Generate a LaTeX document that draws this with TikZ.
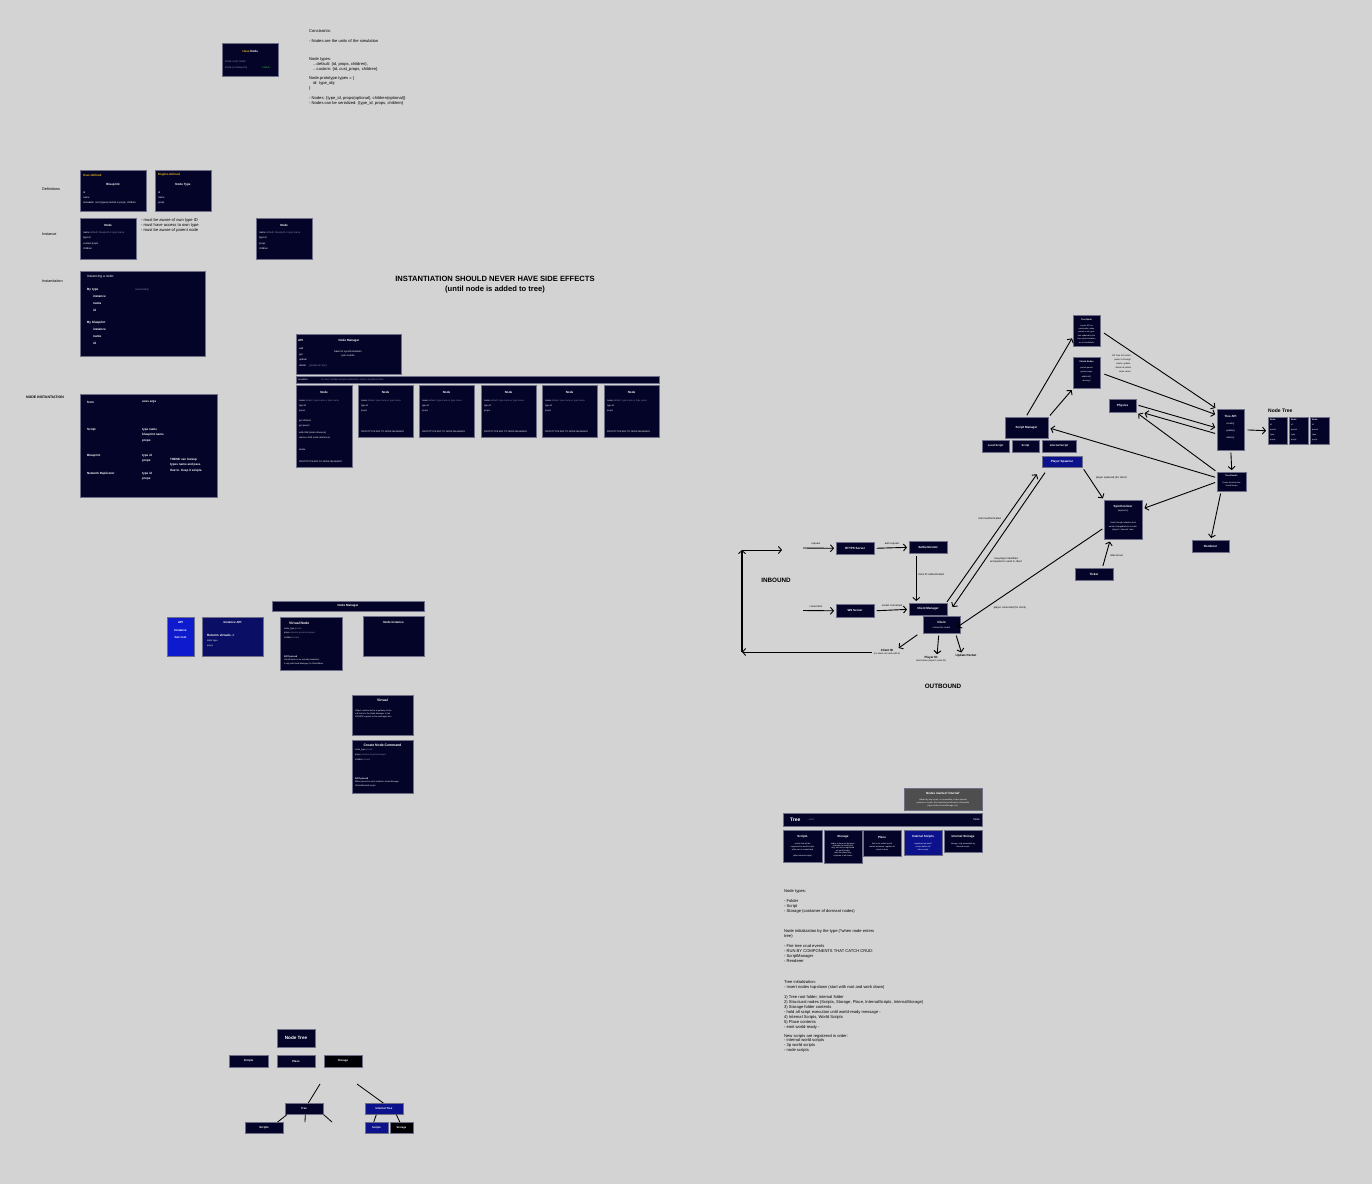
\documentclass[tikz,border=0pt]{standalone}
\usepackage{fontspec}
\setmainfont{Liberation Sans}
\usetikzlibrary{arrows.meta,positioning,calc}

\definecolor{bgc}{RGB}{211,211,211}
\definecolor{navy}{RGB}{4,4,40}
\definecolor{edge}{RGB}{110,110,135}
\definecolor{apiblue}{RGB}{14,26,205}
\definecolor{midblue}{RGB}{12,18,140}
\definecolor{deepblue}{RGB}{10,14,100}
\definecolor{greybox}{RGB}{78,78,78}
\definecolor{gold}{RGB}{235,180,20}
\definecolor{faint}{RGB}{140,140,170}
\definecolor{lilac}{RGB}{175,140,235}
\definecolor{okgreen}{RGB}{60,200,60}

\newcommand{\fxs}{\fontsize{2.6}{3.1}\selectfont}
\newcommand{\fsm}{\fontsize{4.1}{4.9}\selectfont}
\newcommand{\fbx}{\fontsize{2.7}{5.2}\selectfont}
\newcommand{\ftt}{\fontsize{4.2}{5}\selectfont\bfseries}
\newcommand{\fst}{\fontsize{3}{3.6}\selectfont\bfseries}

\begin{document}
\begin{tikzpicture}[x=1pt, y=-1pt,
    box/.style={draw=edge, line width=0.6pt, fill=navy, inner sep=0pt, anchor=north west},
    ttl/.style={inner sep=0pt, text=white, font=\ftt},
    sttl/.style={inner sep=0pt, text=white, font=\fst},
    txt/.style={inner sep=0pt, anchor=north west, align=left, text=white, font=\fbx},
    note/.style={inner sep=0pt, anchor=north west, align=left, text=black, font=\fsm},
    lbl/.style={inner sep=0pt, text=black, font=\fxs},
    arr/.style={-{Straight Barb[length=3pt,width=7pt,line width=0.9pt]}, line width=0.9pt, shorten <=2pt, shorten >=2pt},
    link/.style={line width=0.8pt},
  ]
  % Canvas
  \fill[bgc] (0,0) rectangle (1372,1184);
  \useasboundingbox (0,0) rectangle (1372,1184);

  %
  % Class and constraints
  %
  \node[box, minimum width=56, minimum height=33] (classnode) at (222,43) {};
  \node[ttl, font=\fst] (classnodeT) at (250,51) {\textcolor{gold}{class} Node};
  \node[txt, font=\fontsize{2.5}{6}\selectfont] (classnodeA) at (225,60.5) {\textcolor{lilac}{Prefix} \textcolor{faint}{script 'Node'}\\\textcolor{lilac}{Prefix} \textcolor{faint}{(no Blueprint)}};
  \node[txt, font=\fontsize{2.5}{6}\selectfont, text=okgreen] (classnodeC) at (262,66.5) {CHILD};

  \node[note] (constraints) at (309,29.3) {Constraints:\\[5pt]
    - Nodes are the units of the simulation\\[13pt]
    Node types:\\
    \quad ...default: \{id, props, children\},\\
    \quad ...custom: \{id, cust\_props, children\}\\[5pt]
    Node.prototype.types = \{\\
    \quad id: type\_obj\\
    \}\\[5pt]
    - Nodes: \{type\_id, props(optional), children(optional)\}\\
    - Nodes can be serialized: \{type\_id, props, children\}};

  %
  % Definitions / instance / instantiation
  %
  \node[note, anchor=west, font=\fontsize{3.8}{4}\selectfont] (lblDef) at (42,189) {Definitions};
  \node[note, anchor=west, font=\fontsize{3.8}{4}\selectfont] (lblInst) at (42,234) {Instance};
  \node[note, anchor=west, font=\fontsize{3.8}{4}\selectfont] (lblInstn) at (42,281) {Instantiation};
  \node[note, anchor=west, font=\fontsize{3.5}{4}\selectfont\bfseries] (lblNodeInst) at (26,397) {NODE INSTANTIATION};

  % Blueprint
  \node[box, minimum width=66, minimum height=41] (blueprint) at (80,170) {};
  \node[sttl, anchor=west, text=gold] (blueprintK) at (83,175) {User-defined};
  \node[sttl] (blueprintT) at (113,185) {Blueprint};
  \node[txt, font=\fontsize{2.5}{5}\selectfont] (blueprintF) at (83,191.5) {id\\name\\metadata: root (types) nested in props, children};

  % Node type
  \node[box, minimum width=56, minimum height=41] (nodetype) at (155,170) {};
  \node[sttl, anchor=west, text=gold] (nodetypeK) at (158,175) {Engine-defined};
  \node[sttl] (nodetypeT) at (183,185) {Node Type};
  \node[txt, font=\fontsize{2.5}{5}\selectfont] (nodetypeF) at (158,191.5) {id\\name\\props};

  % Node instance
  \node[box, minimum width=56, minimum height=41] (nodeinst) at (80,218) {};
  \node[sttl] (nodeinstT) at (108,225) {Node};
  \node[txt, font=\fontsize{2.5}{5.3}\selectfont] (nodeinstF) at (83,231.5) {name \textcolor{faint}{default: blueprint or type name}\\type id\\custom props\\children};
  \node[note] (awareness) at (141,218.3) {- must be aware of own type ID\\- must have access to own type\\- must be aware of parent node};

  \node[box, minimum width=56, minimum height=41] (nodeinstB) at (256,218) {};
  \node[sttl] (nodeinstBT) at (284,225) {Node};
  \node[txt, font=\fontsize{2.5}{5.3}\selectfont] (nodeinstBF) at (259,231.5) {name \textcolor{faint}{default: blueprint or type name}\\type id\\props\\children};

  % Instancing
  \node[box, minimum width=125, minimum height=85] (instancing) at (80,271) {};
  \node[txt, anchor=west, font=\fontsize{3.3}{4}\selectfont] (instancingT) at (87,277) {Instancing a node:};
  \node[txt, anchor=west, font=\fontsize{3.1}{4}\selectfont\bfseries] (bytype) at (87,290) {By type};
  \node[txt, anchor=west, font=\fxs, text=faint] (bytypeN) at (135,290) {new Node()};
  \node[txt, font=\fontsize{3.1}{7}\selectfont\bfseries] (bytypeF) at (93,295) {instance\\name\\id};
  \node[txt, anchor=west, font=\fontsize{3.1}{4}\selectfont\bfseries] (byblue) at (87,323) {By blueprint};
  \node[txt, font=\fontsize{3.1}{7}\selectfont\bfseries] (byblueF) at (93,328) {instance\\name\\id};

  % Node instantiation table
  \node[box, minimum width=137, minimum height=103] (instTable) at (80,394) {};
  \node[txt, anchor=west, font=\fst] (itFrom) at (87,402) {from};
  \node[txt, anchor=west, font=\fst] (itArgs) at (142,402) {uses args};
  \node[txt, anchor=west, font=\fst] (itScript) at (87,430) {Script};
  \node[txt, font=\fontsize{3}{5.5}\selectfont\bfseries] (itScriptA) at (142,428) {type name\\blueprint name\\props};
  \node[txt, anchor=west, font=\fst] (itBlue) at (87,456) {Blueprint};
  \node[txt, font=\fontsize{3}{5.5}\selectfont\bfseries] (itBlueA) at (142,454) {type id\\props};
  \node[txt, font=\fontsize{3}{5.5}\selectfont\bfseries] (itThese) at (170,458) {THESE can lookup\\types name and pass\\that in. Keep it simple.};
  \node[txt, anchor=west, font=\fst] (itNet) at (87,474) {Network Replicator};
  \node[txt, font=\fontsize{3}{5.5}\selectfont\bfseries] (itNetA) at (142,472) {type id\\props};

  % Heading
  \node[inner sep=0pt, align=center, font=\fontsize{7.6}{10.5}\selectfont\bfseries] (sideeffects) at (495,284.5) {INSTANTIATION SHOULD NEVER HAVE SIDE EFFECTS\\(until node is added to tree)};

  %
  % Node manager
  %
  \node[box, minimum width=105, minimum height=40] (nodemgr) at (296,334) {};
  \node[sttl, anchor=west] (nodemgrApi) at (298,340) {API};
  \node[sttl] (nodemgrT) at (349,341) {Node Manager};
  \node[txt, font=\fontsize{2.5}{5.6}\selectfont] (nodemgrF) at (299,347.5) {add\\get\\update\\delete \quad\textcolor{faint}{(private for bus)}};
  \node[txt, anchor=north, align=center, font=\fontsize{2.5}{3.6}\selectfont] (nodemgrC) at (348,350.5) {base for synchronization\\sync events};

  \node[box, minimum width=363, minimum height=7] (serbar) at (296,376) {};
  \node[txt, anchor=west, font=\fontsize{2.3}{3}\selectfont] (serbarT) at (298,379.5) {Serializer};
  \node[txt, anchor=west, font=\fontsize{2.3}{3}\selectfont, text=faint] (serbarN) at (321,379.5) {For bus: handles simple serialization, node to serialized state};

  \node[box, minimum width=56, minimum height=82] (nmA) at (296,385) {};
  \node[sttl] (nmAT) at (324,392) {Node};
  \node[txt, font=\fontsize{2.3}{5}\selectfont] (nmAF) at (299,399.5) {name \textcolor{faint}{default: type name or type name}\\type id\\props};
  \node[txt, font=\fontsize{2.3}{5}\selectfont] (nmAG) at (299,419.5) {get children\\get parent};
  \node[txt, font=\fontsize{2.3}{5}\selectfont] (nmAH) at (299,432) {add child (node reference)\\remove child (node reference)};
  \node[txt, anchor=west, font=\fontsize{2.3}{5}\selectfont] (nmAD) at (299,450) {delete};
  \node[txt, anchor=west, font=\fontsize{2.3}{5}\selectfont] (nmAP) at (299,462) {PROTOTYPE REF TO NODE MANAGER};
  \foreach \x [count=\i] in {358,419,481,542,604} {
    \node[box, minimum width=55, minimum height=52] (nm\i) at (\x,385) {};
    \node[sttl] (nm\i T) at (\x+27.5,392) {Node};
    \node[txt, font=\fontsize{2.3}{5}\selectfont] (nm\i F) at (\x+3,399.5) {name \textcolor{faint}{default: type name or type name}\\type id\\props};
    \node[txt, anchor=west, font=\fontsize{2.3}{5}\selectfont] (nm\i P) at (\x+3,432) {PROTOTYPE REF TO NODE MANAGER};
  }

  %
  % Instance API
  %
  \node[box, fill=apiblue, minimum width=27, minimum height=39] (apibox) at (167,617) {};
  \node[sttl] (apiboxT) at (180.5,622) {API};
  \node[txt, anchor=north, align=center, font=\fontsize{3}{7}\selectfont\bfseries] (apiboxF) at (180.5,629.5) {Instance\\Get root};

  \node[box, fill=deepblue, minimum width=61, minimum height=39] (instapi) at (202,617) {};
  \node[sttl] (instapiT) at (232.5,622) {Instance API};
  \node[txt, anchor=west, font=\fontsize{3.1}{4}\selectfont\bfseries] (instapiR) at (207,635) {Returns virtuals ->};
  \node[txt, font=\fontsize{2.3}{5}\selectfont] (instapiF) at (207,639.5) {static type\\props};

  \node[box, minimum width=152, minimum height=10] (nmbar) at (272,601) {};
  \node[sttl] (nmbarT) at (348,606) {Node Manager};

  \node[box, minimum width=62, minimum height=53] (vnode) at (280,617) {};
  \node[sttl, anchor=west, font=\fontsize{3.4}{4}\selectfont\bfseries] (vnodeT) at (289,623) {Virtual Node};
  \node[txt, font=\fontsize{2.2}{4.6}\selectfont] (vnodeF) at (284,627.5) {node\_type \textcolor{faint}{private}\\props \textcolor{faint}{external props/messages}\\children \textcolor{faint}{private}};
  \node[txt, anchor=west, font=\fontsize{2.3}{3}\selectfont\bfseries] (vnodeN) at (284,657) {NOT parsed};
  \node[txt, font=\fontsize{2.1}{3.6}\selectfont] (vnodeL) at (284,659) {Virtual Node is not actually translated,\\it only tells Node Manager, its IDs/children};

  \node[box, minimum width=61, minimum height=40] (nodeinstance) at (363,616) {};
  \node[sttl] (nodeinstanceT) at (393.5,622) {Node Instance};

  \node[box, minimum width=61, minimum height=40] (virtual) at (352,695) {};
  \node[sttl, font=\fontsize{3.4}{4}\selectfont\bfseries] (virtualT) at (382.5,700) {Virtual};
  \node[txt, font=\fontsize{2.1}{3.3}\selectfont] (virtualF) at (355,709.5) {Object constructed as a gateway to the\\call stack to the Node Manager, it has\\PRIVATE support in the messages bus.};

  \node[box, minimum width=61, minimum height=53] (createcmd) at (352,740) {};
  \node[sttl, font=\fontsize{3.4}{4}\selectfont\bfseries] (createcmdT) at (382.5,745) {Create Node Command};
  \node[txt, font=\fontsize{2.2}{4.6}\selectfont] (createcmdF) at (355,749) {node\_type \textcolor{faint}{private}\\props \textcolor{faint}{external props/messages}\\children \textcolor{faint}{private}};
  \node[txt, anchor=west, font=\fontsize{2.3}{3}\selectfont\bfseries] (createcmdN) at (355,779) {NOT parsed};
  \node[txt, font=\fontsize{2.1}{3.6}\selectfont] (createcmdL) at (355,781) {When parsed as self, methods: Node Manager\\IDs/children/all scripts};

  %
  % Network: inbound / outbound
  %
  \node[inner sep=0pt, font=\fontsize{6.3}{7}\selectfont\bfseries] (inbound) at (776,580) {INBOUND};
  \node[inner sep=0pt, font=\fontsize{6.3}{7}\selectfont\bfseries] (outbound) at (943,686) {OUTBOUND};

  \node[box, minimum width=38, minimum height=12] (https) at (836,542) {};
  \node[sttl] (httpsT) at (855,548) {HTTPS Server};
  \node[box, minimum width=38, minimum height=12] (auth) at (909,541) {};
  \node[sttl] (authT) at (928,547) {Authenticator};
  \node[box, minimum width=38, minimum height=13] (ws) at (836,604) {};
  \node[sttl] (wsT) at (855,610.5) {WS Server};
  \node[box, minimum width=38, minimum height=12] (cm) at (909,603) {};
  \node[sttl] (cmT) at (928,609) {Client Manager};
  \node[box, minimum width=37, minimum height=17] (client) at (923,616) {};
  \node[sttl] (clientT) at (941.5,622) {Client};
  \node[lbl, text=white, font=\fontsize{2.2}{3}\selectfont] (clientS) at (941.5,628) {connection socket};

  \node[inner sep=0pt, align=center, font=\fst] (clientid) at (887,652) {Client ID\\[-1pt]{\fontsize{2.3}{3}\selectfont\mdseries (no client can auth with it)}};
  \node[inner sep=0pt, align=center, font=\fst] (playerid) at (931,659) {Player ID\\[-1pt]{\fontsize{2.3}{3}\selectfont\mdseries (send down player's node ID)}};
  \node[inner sep=0pt, align=center, font=\fst] (update) at (966,656) {Update Packet};

  \coordinate (reqS) at (803,548);
  \coordinate (conS) at (803,610.5);
  \coordinate (loopB) at (742,652);
  \coordinate (loopT) at (742,550);
  \coordinate (loopE) at (782,550);

  \draw[arr, shorten <=0pt] (reqS) -- (https.west);
  \node[lbl] (reqL) at (816,544.3) {request};
  \draw[arr] (https.east) -- (auth.west);
  \node[lbl] (authL) at (892,543.8) {auth request};
  \draw[arr] ([xshift=-12]auth.south) -- ([xshift=-12]cm.north);
  \node[lbl, anchor=west] (authedL) at (918,575) {client ID authenticated};
  \draw[arr, shorten <=0pt] (conS) -- (ws.west);
  \node[lbl] (conL) at (816,606.5) {connection};
  \draw[arr] (ws.east) -- (cm.west);
  \node[lbl] (sockL) at (892,606) {socket connected};

  \draw[arr] ([xshift=-4]client.south west) -- ([xshift=10]clientid.north);
  \draw[arr] ([xshift=-3]client.south) -- ([xshift=6]playerid.north);
  \draw[arr] ([xshift=-5]client.south east) -- ([xshift=-4]update.north);

  \draw[arr, shorten >=0pt] (clientid.west) -- (loopB);
  \draw[arr, line width=1.1pt, shorten <=0pt, shorten >=0pt] (loopB) -- (loopT);
  \draw[arr, shorten <=0pt, shorten >=0pt] (loopT) -- (loopE);

  %
  % Simulation side
  %
  \node[box, fill=midblue, minimum width=40, minimum height=11] (spawner) at (1042,456) {};
  \node[sttl] (spawnerT) at (1062,461.5) {Player Spawner};
  \node[box, minimum width=38, minimum height=39] (sync) at (1104,500) {};
  \node[sttl] (syncT) at (1123,506.5) {Synchronizer};
  \node[lbl, text=white, font=\fontsize{2.2}{3}\selectfont] (syncS) at (1123,511) {(replicator)};
  \node[txt, anchor=north, align=center, font=\fontsize{2.1}{3.8}\selectfont] (syncF) at (1123,521.5) {Uses through adapters and\\sends changed/whole to each\\player's 'relevant' area};
  \node[box, minimum width=38, minimum height=12] (ticker) at (1075,568) {};
  \node[sttl] (tickerT) at (1094,574) {Ticker};
  \node[box, minimum width=29, minimum height=19] (tev) at (1217,472) {};
  \node[lbl, text=white, font=\fontsize{2.2}{3}\selectfont\bfseries] (tevT) at (1231.5,476) {Tree Events};
  \node[txt, anchor=north, align=center, font=\fontsize{2}{3.8}\selectfont] (tevF) at (1231.5,481.5) {Create Synchronizer\\Virtual Nodes};
  \node[box, minimum width=37, minimum height=12] (renderer) at (1192,540) {};
  \node[sttl] (rendererT) at (1210.5,546) {Renderer};

  \node[box, minimum width=27, minimum height=41] (treeapi) at (1217,409) {};
  \node[sttl] (treeapiT) at (1230.5,416) {Tree API};
  \node[txt, anchor=north, align=center, font=\fontsize{2.3}{7}\selectfont] (treeapiF) at (1230.5,422.5) {create()\\update()\\delete()};

  \node[inner sep=0pt, anchor=west, font=\fontsize{5}{6}\selectfont\bfseries] (nodetreeL) at (1268,411) {Node Tree};
  \foreach \x [count=\i] in {1268,1289,1310} {
    \node[box, minimum width=19, minimum height=27] (nt\i) at (\x,417) {};
    \node[txt, font=\fontsize{2.1}{5}\selectfont] (nt\i F) at (\x+2,419) {\textbf{Node}\\id\\parent\\type\\props};
  }

  \node[box, minimum width=27, minimum height=31] (treenode) at (1073,315) {};
  \node[lbl, text=white, font=\fontsize{2.2}{3}\selectfont\bfseries] (treenodeT) at (1086.5,319.5) {Tree Node};
  \node[txt, anchor=north, align=center, font=\fontsize{2}{3.4}\selectfont] (treenodeF) at (1086.5,324.5) {Layout API as\\observable, when\\parent is set, gets\\tree updated by the\\tree synchronization\\as a VirtualNode};
  \node[box, minimum width=27, minimum height=31] (vnodes) at (1073,357) {};
  \node[lbl, text=white, font=\fontsize{2.2}{3}\selectfont\bfseries] (vnodesT) at (1086.5,362) {Virtual Nodes};
  \node[txt, anchor=north, align=center, font=\fontsize{2}{4.6}\selectfont] (vnodesF) at (1086.5,366.5) {pre/set parent\\get/set props\\add/child()\\destroy()};
  \node[lbl, anchor=north east, align=right, font=\fontsize{2.2}{4}\selectfont] (vnodesN) at (1131,354.5) {OK Tree API which\\parent is through\\create, update,\\delete all called\\same cases};

  \node[box, minimum width=27, minimum height=13] (physics) at (1109,399) {};
  \node[sttl] (physicsT) at (1122.5,405.5) {Physics};
  \node[box, minimum width=43, minimum height=21] (sm) at (1005,417) {};
  \node[sttl] (smT) at (1026.5,427.5) {Script Manager};
  \node[box, minimum width=27, minimum height=12] (localscript) at (982,440) {};
  \node[sttl, font=\fontsize{2.7}{3}\selectfont\bfseries] (localscriptT) at (995.5,446) {Local Script};
  \node[box, minimum width=27, minimum height=12] (script) at (1012,440) {};
  \node[sttl, font=\fontsize{2.7}{3}\selectfont\bfseries] (scriptT) at (1025.5,446) {Script};
  \node[box, minimum width=34, minimum height=12] (internalscript) at (1042,440) {};
  \node[sttl, font=\fontsize{2.7}{3}\selectfont\bfseries] (internalscriptT) at (1059,446) {Internal Script};

  % Connectors
  \draw[arr, shorten <=-1pt] ([yshift=2]cm.north east) -- ([xshift=-4,yshift=-5]spawner.south west);
  \draw[arr, shorten <=0pt, shorten >=0pt] ([xshift=3,yshift=-5]spawner.south west) -- ([xshift=5,yshift=-4]cm.north east);
  \node[lbl, anchor=east] (cmAuthL) at (1001,519) {client authenticated};
  \node[lbl, align=center] (cmNewL) at (1006,560) {new player identified\\and packet to send to client};
  \draw[arr, shorten >=-4pt] ([yshift=-8]sync.west) -- (client.east);
  \node[lbl] (syncCL) at (1010,607.5) {player connected (for client)};
  \draw[arr] (spawner.south east) -- (sync.north west);
  \node[lbl, anchor=west] (spawnL) at (1096,477.5) {player spawned (for client)};
  \draw[arr] ([xshift=8]ticker.north) -- ([xshift=-13]sync.south);
  \node[lbl, anchor=west] (tickL) at (1110,556) {interval set};
  \draw[arr] (tev.west) -- ([yshift=11]sync.east);
  \draw[arr] ([yshift=4]tev.west) -- (sm.east);
  \draw[arr] (tev.north west) -- (physics.south east);
  \draw[arr] ([xshift=4]tev.south west) -- (renderer.north);
  \draw[arr] (treeapi.south) -- (tev.north);
  \draw[arr, shorten <=3pt] (treeapi.east) -- (nt1.west);
  \draw[arr, shorten <=4pt] (treenode.east) -- (treeapi.north west);
  \draw[arr, shorten <=4pt] (vnodes.east) -- ([yshift=-6]treeapi.north west);
  \draw[arr] ([yshift=1]physics.east) -- ([yshift=-19]treeapi.north west);
  \draw[arr] ([yshift=-25]treeapi.north west) -- ([xshift=6]physics.south east);
  \draw[arr] ([xshift=-1]sm.north) -- ([yshift=10]treenode.south west);
  \draw[arr] (sm.north east) -- (vnodes.south west);

  %
  % Tree layout
  %
  \node[box, fill=greybox, minimum width=78, minimum height=22] (internalnote) at (904,788) {};
  \node[sttl] (internalnoteT) at (943,793) {Nodes marked 'internal'};
  \node[txt, anchor=north, align=center, font=\fontsize{2}{3.2}\selectfont] (internalnoteF) at (943,798.5) {Hidden by any scripts, not accessible to other internal\\systems or scripts. Nest world (internalScripts in Places/the\\player folder, InternalStorage, etc.)};

  \node[box, minimum width=199, minimum height=13] (treebar) at (783,813) {};
  \node[inner sep=0pt, anchor=west, text=white, font=\fontsize{5}{6}\selectfont\bfseries] (treebarT) at (790,819.5) {Tree};
  \node[lbl, anchor=west, text=faint] (treebarR) at (807,819.5) {...root};
  \node[lbl, anchor=east, text=white] (treebarF) at (980,819.5) {folder};

  \node[box, minimum width=39, minimum height=32] (tScriptsBox) at (783,830) {};
  \node[sttl] (tScriptsT) at (802.5,837) {Scripts};
  \node[txt, anchor=north, align=center, font=\fontsize{2}{3.2}\selectfont] (tScriptsF) at (802.5,842.5) {scripts that will be\\registered as world scripts\\while tree is instantiated\\[2.5pt](after internal scripts)};
  \node[box, minimum width=38, minimum height=33] (tStorageBox) at (824,830) {};
  \node[sttl] (tStorageT) at (843,837) {Storage};
  \node[txt, anchor=north, align=center, font=\fontsize{2}{2.4}\selectfont] (tStorageF) at (843,842.5) {nodes in here are dormant,\\replicated to clients but\\they will not be registered\\as world scripts\\take the place they\\replicate to all clients};
  \node[box, minimum width=38, minimum height=26] (tPlaceBox) at (863,830) {};
  \node[sttl] (tPlaceT) at (882,837) {Place};
  \node[txt, anchor=north, align=center, font=\fontsize{2}{3.2}\selectfont] (tPlaceF) at (882,842.5) {this is the visible world\\render instances; register all\\scripts in here};
  \node[box, fill=midblue, minimum width=38, minimum height=25] (tIScriptsBox) at (904,830) {};
  \node[sttl] (tIScriptsT) at (923,837) {Internal Scripts};
  \node[txt, anchor=north, align=center, font=\fontsize{2}{3.2}\selectfont] (tIScriptsF) at (923,842.5) {registered as world\\scripts before all\\other scripts};
  \node[box, minimum width=38, minimum height=22] (tIStorageBox) at (944,830) {};
  \node[sttl] (tIStorageT) at (963,837) {Internal Storage};
  \node[txt, anchor=north, align=center, font=\fontsize{2}{3.2}\selectfont] (tIStorageF) at (963,842.5) {storage, only accessible by\\internal scripts};

  \node[note] (treenotes) at (784,889.8) {Node types:\\[5pt]
    - Folder\\
    - Script\\
    - Storage (container of dormant nodes)\\[15pt]
    Node initialization by the type (*when node enters\\
    tree)\\[5pt]
    - Fire tree crud events\\
    - RUN BY COMPONENTS THAT CATCH CRUD:\\
    - ScriptManager\\
    - Renderer\\[17pt]
    Tree initialization:\\
    - Insert nodes top-down (start with root and work down)\\[5pt]
    1) Tree root folder, internal folder\\
    2) Structural nodes (Scripts, Storage, Place, InternalScripts, InternalStorage)\\
    3) Storage folder contents\\
    - hold all script execution until world-ready message -\\
    4) Internal Scripts, World Scripts\\
    5) Place contents\\
    - emit world-ready -\\[4pt]
    New scripts are registered in order:\\
    - internal world scripts\\
    - 3p world scripts\\
    - node scripts};

  %
  % Node tree sketch
  %
  \node[box, minimum width=38, minimum height=18] (ntroot) at (277,1029) {};
  \node[sttl, font=\fontsize{4.6}{5}\selectfont\bfseries] (ntrootT) at (296,1038) {Node Tree};
  \node[box, minimum width=39, minimum height=12] (ntScripts) at (229,1055) {};
  \node[sttl, font=\fontsize{2.8}{3}\selectfont\bfseries] (ntScriptsT) at (248.5,1061) {Scripts};
  \node[box, minimum width=38, minimum height=12] (ntPlace) at (277,1055) {};
  \node[sttl, font=\fontsize{2.8}{3}\selectfont\bfseries] (ntPlaceT) at (296,1061) {Place};
  \node[box, fill=black!90!navy, minimum width=38, minimum height=12] (ntStorage) at (324,1055) {};
  \node[sttl, font=\fontsize{2.8}{3}\selectfont\bfseries] (ntStorageT) at (343,1061) {Storage};

  \node[box, minimum width=38, minimum height=11] (tree) at (285,1103) {};
  \node[sttl, font=\fontsize{2.8}{3}\selectfont\bfseries] (treeT) at (304,1108.5) {Tree};
  \node[box, minimum width=38, minimum height=11] (treeScripts) at (245,1122) {};
  \node[sttl, font=\fontsize{2.8}{3}\selectfont\bfseries] (treeScriptsT) at (264,1127.5) {Scripts};
  \node[box, fill=midblue, minimum width=38, minimum height=11] (itree) at (365,1103) {};
  \node[sttl, font=\fontsize{2.8}{3}\selectfont\bfseries] (itreeT) at (384,1108.5) {Internal Tree};
  \node[box, fill=midblue, minimum width=23, minimum height=11] (iScripts) at (365,1122) {};
  \node[sttl, font=\fontsize{2.6}{3}\selectfont\bfseries] (iScriptsT) at (376.5,1127.5) {Scripts};
  \node[box, fill=black!90!navy, minimum width=23, minimum height=11] (iStorage) at (390,1122) {};
  \node[sttl, font=\fontsize{2.6}{3}\selectfont\bfseries] (iStorageT) at (401.5,1127.5) {Storage};

  \coordinate (brA) at (320,1084);
  \coordinate (brB) at (357,1084);
  \coordinate (tEndB) at (305,1122);
  \coordinate (tEndC) at (332,1122);
  \draw[link] (brA) -- ([xshift=4]tree.north);
  \draw[link] (brB) -- ([xshift=-1]itree.north);
  \draw[link] ([xshift=2]tree.south west) -- ([xshift=-6]treeScripts.north east);
  \draw[link] ([xshift=1]tree.south) -- (tEndB);
  \draw[link] (tree.south east) -- (tEndC);
  \draw[link] ([xshift=-8]itree.south) -- ([xshift=-3]iScripts.north);
  \draw[link] ([xshift=12]itree.south) -- ([xshift=-2]iStorage.north);

\end{tikzpicture}
\end{document}
